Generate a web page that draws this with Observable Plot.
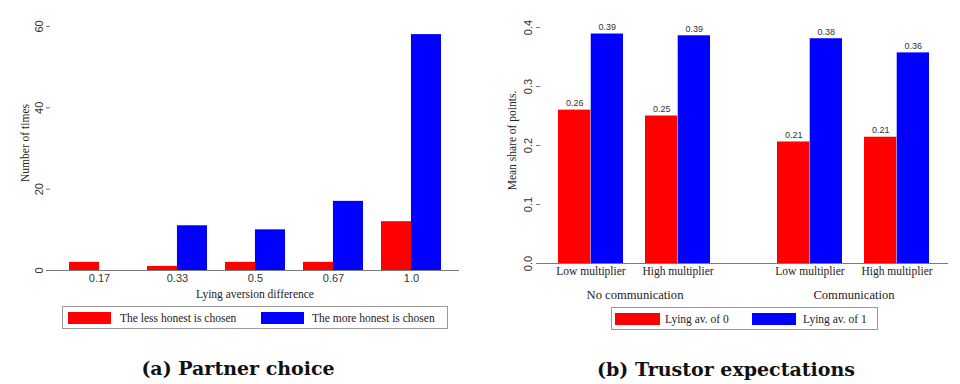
<!DOCTYPE html>
<html>
<head>
<meta charset="utf-8">
<script src="https://cdn.jsdelivr.net/npm/d3@7"></script>
<script src="https://cdn.jsdelivr.net/npm/@observablehq/plot@0.6"></script>
<style>
  body { margin: 0; background: #fff; }
  #root { position: relative; width: 960px; height: 384px; background: #fff; overflow: hidden; }
  .panel { position: absolute; top: 0; width: 480px; height: 384px; }
  .panel svg { position: absolute; left: 0; top: 0; }
  .legbox { position: absolute; border: 1px solid #9a9a9a; box-sizing: border-box; }
  .sw { position: absolute; height: 12px; }
  .lt { position: absolute; font-family: "Liberation Serif", "Times New Roman", serif; font-size: 11.5px; color: #222; line-height: 12px; white-space: nowrap; }
  .cap { position: absolute; font-family: "DejaVu Serif", serif; font-weight: bold; font-size: 19px; color: #111; white-space: nowrap; transform: translate(-50%, -50%); }
</style>
</head>
<body>
<div id="root">
  <div class="panel" id="pa" style="left:0"></div>
  <div class="panel" id="pb" style="left:480px"></div>
</div>
<script>
// ---------- data: panel (a) Partner choice ----------
const lyingDiffs = ["0.17", "0.33", "0.5", "0.67", "1.0"];
const lessHonestChosen = [2, 1, 2, 2, 12];
const moreHonestChosen = [0, 11, 10, 17, 58];
const partnerSeries = ["The less honest is chosen", "The more honest is chosen"];
const partnerYTicks = [0, 20, 40, 60];

// ---------- data: panel (b) Trustor expectations ----------
const commGroups = ["No communication", "Communication"];
const barComm = ["No communication", "No communication", "Communication", "Communication"];
const barMultiplier = ["Low multiplier", "High multiplier", "Low multiplier", "High multiplier"];
const lyingAv0 = [0.26, 0.25, 0.206, 0.214];
const lyingAv1 = [0.389, 0.386, 0.381, 0.357];
const expectSeries = ["Lying av. of 0", "Lying av. of 1"];
const expectYTicks = [0, 0.1, 0.2, 0.3, 0.4];

const seriesColors = ["#ff0000", "#0000ff"];

// ---------- helpers ----------
const SERIF = "Liberation Serif, Times New Roman, serif";
const SANS = "Liberation Sans, Arial, Helvetica, sans-serif";
const AXIS = "#7a7a7a";
function bandwidth(total, n, pi, po) { return total / (n - pi + 2 * po) * (1 - pi); }

// ---------- panel (a) ----------
const A = {w: 480, h: 302, ml: 50, mr: 21, mt: 15, mb: 32, pi: 0.233, po: 0.235};
const aBw = bandwidth(A.w - A.ml - A.mr, lyingDiffs.length, A.pi, A.po);
const partnerData = [];
lyingDiffs.forEach((d, i) => {
  partnerData.push({diff: d, series: partnerSeries[0], count: lessHonestChosen[i]});
  partnerData.push({diff: d, series: partnerSeries[1], count: moreHonestChosen[i]});
});

const plotA = Plot.plot({
  width: A.w, height: A.h,
  marginLeft: A.ml, marginRight: A.mr, marginTop: A.mt, marginBottom: A.mb,
  style: {background: "transparent", color: "#222", fontFamily: SANS, overflow: "visible"},
  x: {domain: lyingDiffs, paddingInner: A.pi, paddingOuter: A.po, axis: null},
  y: {domain: [0, 62.7], axis: null},
  marks: [
    Plot.barY(partnerData.filter(d => d.series === partnerSeries[0]),
      {x: "diff", y: "count", fill: seriesColors[0], insetRight: aBw / 2}),
    Plot.barY(partnerData.filter(d => d.series === partnerSeries[1]),
      {x: "diff", y: "count", fill: seriesColors[1], insetLeft: aBw / 2}),
    Plot.ruleY([0], {stroke: AXIS, strokeWidth: 1.2}),
    Plot.axisY({ticks: partnerYTicks, tickSize: 4, line: true, label: null, stroke: AXIS,
      tickFormat: () => ""}),
    Plot.text(partnerYTicks, {y: d => d, text: d => d3.format("d")(d), frameAnchor: "left", dx: -11,
      rotate: -90, textAnchor: "middle", lineAnchor: "middle", fontSize: 11, fill: "#333"}),
    Plot.axisX({tickSize: 0, tickPadding: 4, label: null, fill: "#333", fontSize: 11}),
    Plot.text(["Lying aversion difference"], {frameAnchor: "bottom", dy: 24, text: d => d,
      fontFamily: SERIF, fontSize: 11.5, fill: "#222", textAnchor: "middle", lineAnchor: "middle"}),
    Plot.text(["Number of times"], {frameAnchor: "left", dx: -25, rotate: -90, text: d => d,
      fontFamily: SERIF, fontSize: 11.5, fill: "#222", textAnchor: "middle", lineAnchor: "middle"})
  ]
});
document.getElementById("pa").appendChild(plotA);

// ---------- panel (b) ----------
const B = {w: 480, h: 302, ml: 60, mr: 12, mt: 17, mb: 39, fpi: 0.137, fpo: 0, pi: 0.248, po: 0.21};
const cellW = bandwidth(B.w - B.ml - B.mr, commGroups.length, B.fpi, B.fpo);
const bBw = bandwidth(cellW, 2, B.pi, B.po);
const expectData = [];
barComm.forEach((c, i) => {
  expectData.push({comm: c, mult: barMultiplier[i], series: expectSeries[0], value: lyingAv0[i]});
  expectData.push({comm: c, mult: barMultiplier[i], series: expectSeries[1], value: lyingAv1[i]});
});
const baseData = commGroups.map(c => ({comm: c, v: 0}));
const yTickData = expectYTicks.map(t => ({comm: commGroups[0], t}));
const gapHalf = (cellW / (1 - B.fpi) * B.fpi) / 2 + 1;
const fmt2 = d3.format(".2f");

const plotB = Plot.plot({
  width: B.w, height: B.h,
  marginLeft: B.ml, marginRight: B.mr, marginTop: B.mt, marginBottom: B.mb,
  style: {background: "transparent", color: "#222", fontFamily: SANS, overflow: "visible"},
  fx: {domain: commGroups, paddingInner: B.fpi, paddingOuter: B.fpo, axis: null},
  x: {domain: ["Low multiplier", "High multiplier"], paddingInner: B.pi, paddingOuter: B.po, axis: null},
  y: {domain: [0, 0.417], axis: null},
  marks: [
    Plot.barY(expectData.filter(d => d.series === expectSeries[0]),
      {fx: "comm", x: "mult", y: "value", fill: seriesColors[0], insetRight: bBw / 2}),
    Plot.barY(expectData.filter(d => d.series === expectSeries[1]),
      {fx: "comm", x: "mult", y: "value", fill: seriesColors[1], insetLeft: bBw / 2}),
    Plot.text(expectData.filter(d => d.series === expectSeries[0]),
      {fx: "comm", x: "mult", y: "value", text: d => fmt2(d.value), dx: -bBw / 4, dy: -4,
       lineAnchor: "bottom", fontSize: 9, fill: "#333"}),
    Plot.text(expectData.filter(d => d.series === expectSeries[1]),
      {fx: "comm", x: "mult", y: "value", text: d => fmt2(d.value), dx: bBw / 4, dy: -4,
       lineAnchor: "bottom", fontSize: 9, fill: "#333"}),
    Plot.ruleY(baseData.filter(d => d.comm === commGroups[0]),
      {fx: "comm", y: "v", stroke: AXIS, strokeWidth: 1.2, insetRight: -gapHalf}),
    Plot.ruleY(baseData.filter(d => d.comm === commGroups[1]),
      {fx: "comm", y: "v", stroke: AXIS, strokeWidth: 1.2, insetLeft: -gapHalf}),
    Plot.axisY({ticks: expectYTicks, tickSize: 4, line: true, label: null, stroke: AXIS,
      tickFormat: () => ""}),
    Plot.text(yTickData, {fx: "comm", y: "t", text: d => d3.format(".1f")(d.t), frameAnchor: "left", dx: -12,
      rotate: -90, textAnchor: "middle", lineAnchor: "middle", fontSize: 11, fill: "#333"}),
    Plot.axisX({tickSize: 0, tickPadding: 3, label: null, fill: "#222", fontSize: 11.5, fontFamily: SERIF}),
    Plot.text(commGroups, {fx: d => d, frameAnchor: "bottom", dy: 31, text: d => d,
      fontFamily: SERIF, fontSize: 12.6, fill: "#222", textAnchor: "middle", lineAnchor: "middle"}),
    Plot.text([{comm: commGroups[0], t: "Mean share of points."}],
      {fx: "comm", frameAnchor: "left", dx: -28, rotate: -90, text: "t",
       fontFamily: SERIF, fontSize: 11.5, fill: "#222", textAnchor: "middle", lineAnchor: "middle"})
  ]
});
document.getElementById("pb").appendChild(plotB);

// ---------- legends & captions (HTML, below the SVGs) ----------
function legend(panelId, box, items) {
  const p = document.getElementById(panelId);
  const b = document.createElement("div");
  b.className = "legbox";
  Object.assign(b.style, {left: box.x + "px", top: box.y + "px", width: box.w + "px", height: box.h + "px"});
  p.appendChild(b);
  items.forEach(it => {
    const s = document.createElement("div");
    s.className = "sw";
    Object.assign(s.style, {left: it.sx + "px", top: (box.y + 6) + "px", width: it.sw + "px", background: it.color});
    p.appendChild(s);
    const t = document.createElement("div");
    t.className = "lt";
    t.textContent = it.label;
    Object.assign(t.style, {left: it.tx + "px", top: (box.y + 6) + "px"});
    p.appendChild(t);
  });
}
legend("pa", {x: 62, y: 306, w: 386, h: 23}, [
  {sx: 68, sw: 43, tx: 120, color: seriesColors[0], label: partnerSeries[0]},
  {sx: 261, sw: 43, tx: 312, color: seriesColors[1], label: partnerSeries[1]}
]);
legend("pb", {x: 131, y: 307, w: 267, h: 23}, [
  {sx: 135, sw: 45, tx: 185, color: seriesColors[0], label: expectSeries[0]},
  {sx: 272, sw: 44, tx: 323, color: seriesColors[1], label: expectSeries[1]}
]);
function caption(panelId, cx, cy, text) {
  const c = document.createElement("div");
  c.className = "cap";
  c.textContent = text;
  Object.assign(c.style, {left: cx + "px", top: cy + "px"});
  document.getElementById(panelId).appendChild(c);
}
caption("pa", 238, 368, "(a) Partner choice");
caption("pb", 246, 369, "(b) Trustor expectations");
</script>
</body>
</html>
